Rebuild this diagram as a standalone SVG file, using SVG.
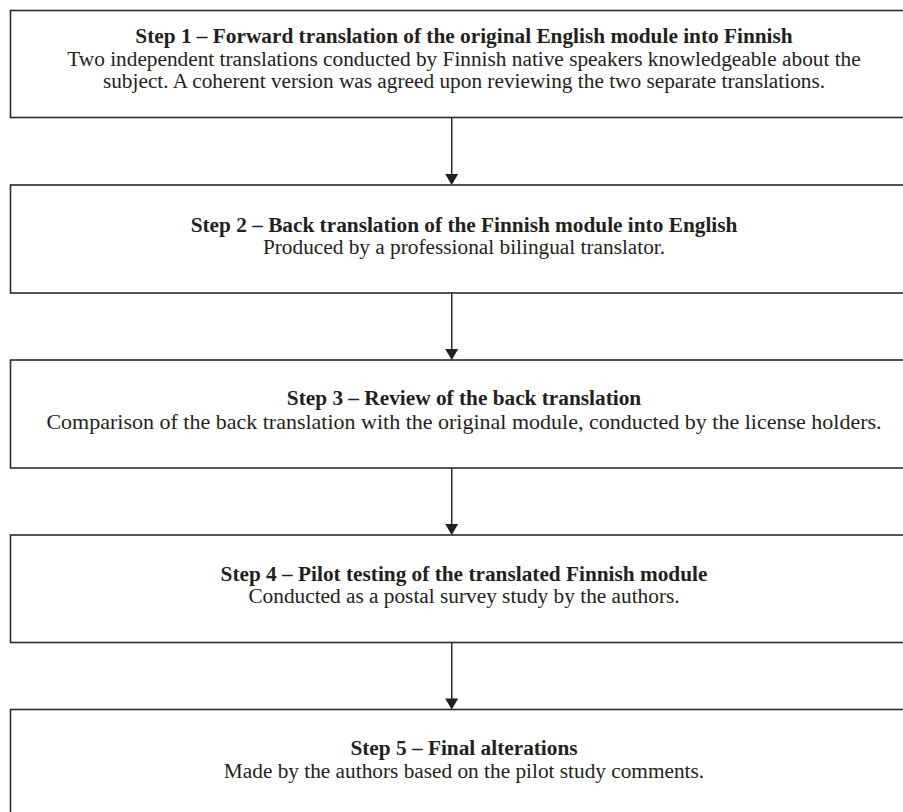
<svg xmlns="http://www.w3.org/2000/svg" width="903" height="812" viewBox="0 0 903 812">
<style>
.box{fill:#fff;stroke:#2b2b2b;stroke-width:1.6}
.t{font-family:"Liberation Serif","Times New Roman",serif;font-size:21.3px;fill:#231f20;text-anchor:middle}
.b{font-weight:bold}
.c{stroke:#231f20;stroke-width:1.4;fill:none}
.ah{fill:#231f20}
</style>
<rect width="903" height="812" fill="#fff"/>
<g id="connectors">
<line class="c" x1="451.7" y1="117.5" x2="451.7" y2="178"/>
<polygon class="ah" points="445.2,174 458.2,174 451.7,185"/>
<line class="c" x1="451.7" y1="293" x2="451.7" y2="353"/>
<polygon class="ah" points="445.2,349 458.2,349 451.7,360"/>
<line class="c" x1="451.7" y1="468" x2="451.7" y2="528"/>
<polygon class="ah" points="445.2,524 458.2,524 451.7,535"/>
<line class="c" x1="451.7" y1="642.5" x2="451.7" y2="702.5"/>
<polygon class="ah" points="445.2,698.5 458.2,698.5 451.7,709.5"/>
</g>
<g id="step1">
<rect class="box" x="10.5" y="10.5" width="907" height="107"/>
<text class="t b" x="464" y="43">Step 1 – Forward translation of the original English module into Finnish</text>
<text class="t" x="464" y="65.5">Two independent translations conducted by Finnish native speakers knowledgeable about the</text>
<text class="t" x="464" y="88">subject. A coherent version was agreed upon reviewing the two separate translations.</text>
</g>
<g id="step2">
<rect class="box" x="10.5" y="185" width="907" height="108"/>
<text class="t b" x="464" y="231.5">Step 2 – Back translation of the Finnish module into English</text>
<text class="t" x="464" y="254">Produced by a professional bilingual translator.</text>
</g>
<g id="step3">
<rect class="box" x="10.5" y="360" width="907" height="108"/>
<text class="t b" x="464" y="405">Step 3 – Review of the back translation</text>
<text class="t" x="464" y="429" style="font-size:22px">Comparison of the back translation with the original module, conducted by the license holders.</text>
</g>
<g id="step4">
<rect class="box" x="10.5" y="535" width="907" height="107.5"/>
<text class="t b" x="464" y="580.5">Step 4 – Pilot testing of the translated Finnish module</text>
<text class="t" x="464" y="603">Conducted as a postal survey study by the authors.</text>
</g>
<g id="step5">
<rect class="box" x="10.5" y="709.5" width="907" height="108"/>
<text class="t b" x="464" y="755">Step 5 – Final alterations</text>
<text class="t" x="464" y="777.5">Made by the authors based on the pilot study comments.</text>
</g>
</svg>
